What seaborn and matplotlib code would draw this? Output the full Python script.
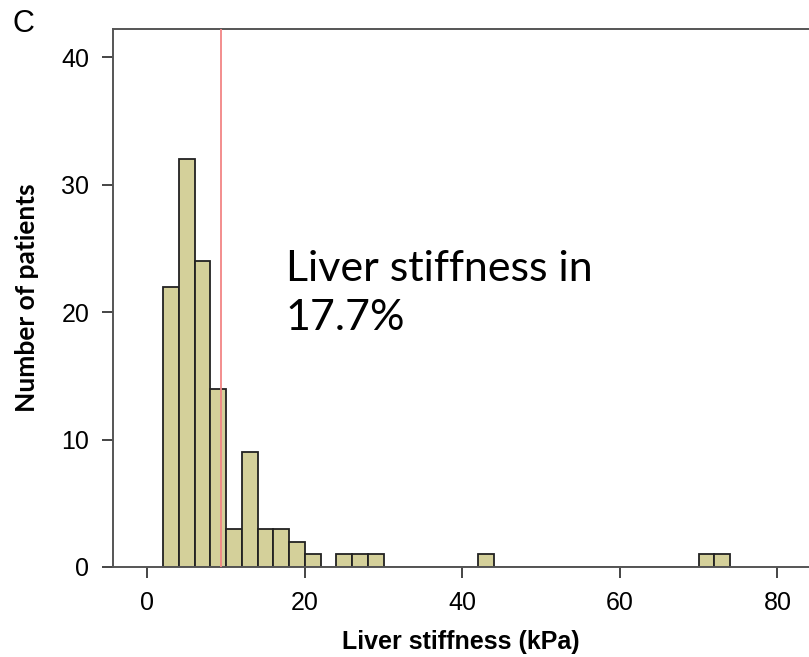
import matplotlib
matplotlib.use("Agg")
import matplotlib.pyplot as plt
import seaborn as sns
import numpy as np
import pandas as pd

# Histogram data (bin width 2 kPa)
bin_centers = [3, 5, 7, 9, 11, 13, 15, 17, 19, 21, 25, 27, 29, 43, 71, 73]
counts      = [22, 32, 24, 14, 3, 9, 3, 3, 2, 1, 1, 1, 1, 1, 1, 1]
cutoff = 9.3
x_ticks = [0, 20, 40, 60, 80]
y_ticks = [0, 10, 20, 30, 40]

df = pd.DataFrame({"stiffness": bin_centers, "n": counts})

sns.set_style("white")
plt.rcParams['font.family'] = ['Liberation Sans', 'DejaVu Sans']
plt.rcParams['text.color'] = 'black'
plt.rcParams['axes.labelcolor'] = 'black'
plt.rcParams['xtick.labelcolor'] = 'black'
plt.rcParams['ytick.labelcolor'] = 'black'

fig = plt.figure(figsize=(8.09, 6.57), dpi=100)
ax = fig.add_axes([113/809, 90/657, 1 - 113/809, (567-29)/657])

sns.histplot(data=df, x="stiffness", weights="n", binwidth=2, binrange=(2, 74), ax=ax,
             color="#d4d09a", alpha=1, edgecolor="#222222", linewidth=1.3)

ax.axvline(cutoff, color="#f28585", lw=1.3, zorder=5)

ax.set_xlim(-4.35, 84.0)
ax.set_ylim(0, 42.2)
ax.set_xticks(x_ticks)
ax.set_yticks(y_ticks)
ax.tick_params(axis='both', direction='out', length=8, width=1.4, color="#444444",
               labelsize=18, pad=9, left=True, bottom=True, labelcolor='black')
for s in ['left', 'bottom', 'top']:
    ax.spines[s].set_color("#555555")
    ax.spines[s].set_linewidth(1.4)
ax.spines['right'].set_visible(False)

ax.set_xlabel("Liver stiffness (kPa)", fontsize=18, fontweight='bold', labelpad=11)
ax.set_ylabel("Number of patients", fontsize=19, fontweight='bold', labelpad=16,
              family=['Lato', 'DejaVu Sans'])

ax.text(17.6, 22.4, "Liver stiffness in", fontsize=31, va='baseline', ha='left',
        family=['Lato', 'DejaVu Sans'], color='black')
ax.text(17.6, 18.6, "17.7%", fontsize=31, va='baseline', ha='left',
        family=['Lato', 'DejaVu Sans'], color='black')

fig.text(12/809, 1 - 32/657, "C", fontsize=22, ha='left', va='baseline', color='black')

fig.savefig("out.png", dpi=100)
